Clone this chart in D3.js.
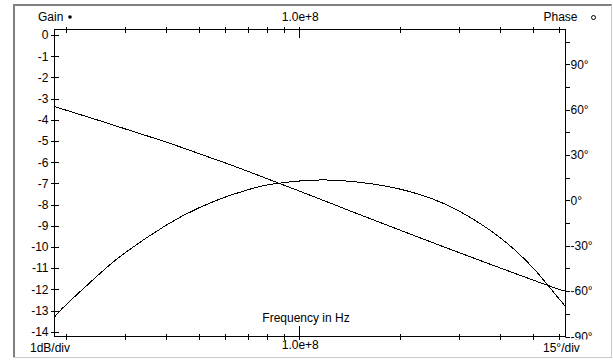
<!DOCTYPE html>
<html>
<head>
<meta charset="utf-8">
<script src="https://cdn.jsdelivr.net/npm/d3@7"></script>
<style>
    body { margin: 0; background: #fff; }
    svg { display: block; font-family: "Liberation Sans", Arial, sans-serif; font-size: 12px; }
</style>
</head>
<body>
<div id="chart"></div>
<script>
// frequency samples (Hz)
const freqs = [1.85e7, 2e7, 2.5e7, 3e7, 4e7, 5e7, 6e7, 7e7, 8e7, 1e8,
    1.2e8, 1.5e8, 2e8, 2.5e8, 3e8, 4e8, 5e8, 5.5e8, 6e8, 6.27e8];

// gain in dB (filled dot, left axis)
const gainDb = [-13.31, -12.74, -11.33, -10.29, -8.97, -8.16, -7.65, -7.31, -7.08, -6.89,
    -6.84, -6.94, -7.27, -7.73, -8.29, -9.57, -10.97, -11.73, -12.45, -12.81];

// phase in degrees (open dot, right axis)
const phaseDeg = [62, 59.7, 53.0, 47.4, 38.5, 31.0, 24.8, 19.3, 14.4, 6.2,
    -0.6, -9.0, -19.6, -27.8, -34.4, -44.7, -52.6, -55.9, -58.8, -60.0];

const freqTicks = [2e7, 3e7, 4e7, 5e7, 6e7, 7e7, 8e7, 9e7, 1e8, 2e8, 3e8, 4e8, 5e8, 6e8];
const freqMajor = 1e8;
const gainTicks = [0, -1, -2, -3, -4, -5, -6, -7, -8, -9, -10, -11, -12, -13, -14];
const phaseTicks = [105, 90, 75, 60, 45, 30, 15, 0, -15, -30, -45, -60, -75, -90];

function createChart() {
    const width = 613;
    const height = 360;

    const plot = { left: 54.5, right: 565.5, top: 29.5, bottom: 336.5 };

    const svg = d3
        .select('#chart')
        .append('svg')
        .attr('width', width)
        .attr('height', height);

    // outer sunken frame
    svg.append('line').attr('x1', 13).attr('x2', 612).attr('y1', 5).attr('y2', 5)
        .attr('stroke', '#808080').attr('stroke-width', 2);
    svg.append('line').attr('x1', 14).attr('x2', 14).attr('y1', 5).attr('y2', 358)
        .attr('stroke', '#808080').attr('stroke-width', 2);
    svg.append('line').attr('x1', 13).attr('x2', 612).attr('y1', 357.5).attr('y2', 357.5)
        .attr('stroke', '#c8c8c8');
    svg.append('line').attr('x1', 611.5).attr('x2', 611.5).attr('y1', 5).attr('y2', 358)
        .attr('stroke', '#c8c8c8');

    const xScale = d3.scaleLog()
        .domain([1.85e7, 6.27e8])
        .range([plot.left, plot.right]);

    const gainScale = d3.scaleLinear()
        .domain([-14, 0])
        .range([331.7, 35]);

    const phaseScale = d3.scaleLinear()
        .domain([-90, 113])
        .range([plot.bottom, plot.top]);

    // plot box
    svg.append('rect')
        .attr('x', plot.left)
        .attr('y', plot.top)
        .attr('width', plot.right - plot.left)
        .attr('height', plot.bottom - plot.top)
        .attr('fill', 'none')
        .attr('stroke', '#000')
        .attr('shape-rendering', 'crispEdges');

    // Left gain axis, ticks cross the line
    svg.append('g')
        .attr('transform', `translate(${plot.left}, 0)`)
        .call(d3.axisLeft(gainScale).tickValues(gainTicks).tickSize(4).tickPadding(2)
            .tickFormat(d => d))
        .call(g => g.select('.domain').remove())
        .call(g => g.selectAll('.tick line').attr('x1', 4).attr('x2', -4))
        .attr('font-family', null).attr('font-size', null);

    // Right phase axis, labels every 30 deg
    const clip = svg.append('clipPath').attr('id', 'phaseClip');
    clip.append('rect').attr('x', 0).attr('y', 0).attr('width', width).attr('height', 339.5);

    svg.append('g')
        .attr('transform', `translate(${plot.right}, 0)`)
        .attr('clip-path', 'url(#phaseClip)')
        .call(d3.axisRight(phaseScale).tickValues(phaseTicks).tickSize(4).tickPadding(1)
            .tickFormat(d => (d % 30 === 0 && d <= 90) ? d + '°' : ''))
        .call(g => g.select('.domain').remove())
        .call(g => g.selectAll('.tick line').attr('x1', -4).attr('x2', 4))
        .attr('font-family', null).attr('font-size', null);

    // Top frequency axis
    svg.append('g')
        .attr('transform', `translate(0, ${plot.top})`)
        .call(d3.axisTop(xScale).tickValues(freqTicks).tickSize(3).tickFormat(''))
        .call(g => g.select('.domain').remove())
        .call(g => g.selectAll('.tick line')
            .attr('y1', d => d === freqMajor ? 8 : 3)
            .attr('y2', -3));

    // Bottom frequency axis
    svg.append('g')
        .attr('transform', `translate(0, ${plot.bottom})`)
        .call(d3.axisBottom(xScale).tickValues(freqTicks).tickSize(3).tickFormat(''))
        .call(g => g.select('.domain').remove())
        .call(g => g.selectAll('.tick line')
            .attr('y1', d => d === freqMajor ? -11 : -3)
            .attr('y2', 3));

    svg.selectAll('.tick line').attr('shape-rendering', 'crispEdges');

    // curves
    const rows = freqs.map((f, i) => ({ f, gain: gainDb[i], phase: phaseDeg[i] }));

    const gainLine = d3.line()
        .x(d => xScale(d.f))
        .y(d => gainScale(d.gain))
        .curve(d3.curveNatural);

    const phaseLine = d3.line()
        .x(d => xScale(d.f))
        .y(d => phaseScale(d.phase))
        .curve(d3.curveNatural);

    svg.append('path')
        .datum(rows)
        .attr('d', gainLine)
        .attr('fill', 'none')
        .attr('stroke', '#000')
        .attr('shape-rendering', 'crispEdges');

    svg.append('path')
        .datum(rows)
        .attr('d', phaseLine)
        .attr('fill', 'none')
        .attr('stroke', '#000')
        .attr('shape-rendering', 'crispEdges');

    // labels
    svg.append('text').attr('x', 38).attr('y', 21).text('Gain');
    svg.append('circle').attr('cx', 70).attr('cy', 17).attr('r', 1.8).attr('fill', '#000');

    svg.append('text').attr('x', 543.5).attr('y', 21).text('Phase');
    svg.append('circle').attr('cx', 593.5).attr('cy', 17.5).attr('r', 2)
        .attr('fill', 'none').attr('stroke', '#000');

    svg.append('text').attr('x', xScale(freqMajor) + 1).attr('y', 21)
        .attr('text-anchor', 'middle').text('1.0e+8');
    svg.append('text').attr('x', xScale(freqMajor) + 1).attr('y', 349)
        .attr('text-anchor', 'middle').text('1.0e+8');

    svg.append('text').attr('x', 306).attr('y', 322)
        .attr('text-anchor', 'middle').text('Frequency in Hz');

    svg.append('text').attr('x', 30).attr('y', 352).text('1dB/div');
    svg.append('text').attr('x', 543).attr('y', 352).text('15°/div');
}

document.addEventListener('DOMContentLoaded', () => {
    createChart();
});
</script>
</body>
</html>
